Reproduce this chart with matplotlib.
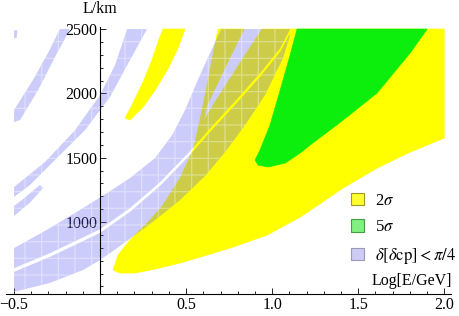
import matplotlib
matplotlib.use("Agg")
import matplotlib.pyplot as plt
from matplotlib.patches import Patch
import numpy as np

plt.rcParams['font.family'] = ['Liberation Serif', 'DejaVu Serif']
plt.rcParams['mathtext.fontset'] = 'stix'
plt.rcParams['hatch.linewidth'] = 0.9

# ---- regions: x = Log[E/GeV], L in km ----
# 2 sigma, main region: left edge, notch at the top, right edge, lower edge
yellow_left_x = [0.076, 0.105, 0.174, 0.279, 0.366, 0.465, 0.541, 0.581, 0.628, 0.686]
yellow_left_L = [627, 744, 860, 1000, 1132, 1342, 1560, 1793, 2104, 2500]
yellow_notch_x = [0.837, 0.762, 0.692, 0.622, 0.600, 0.657, 0.750, 0.843, 0.942]
yellow_notch_L = [2500, 2298, 2104, 1909, 1780, 1909, 2104, 2298, 2500]
yellow_right_x = [2.0, 2.0]
yellow_right_L = [2500, 1653]
yellow_bottom_x = [1.802, 1.610, 1.413, 1.163, 0.971, 0.773, 0.581, 0.465, 0.320, 0.203, 0.116]
yellow_bottom_L = [1544, 1420, 1265, 1039, 899, 806, 728, 682, 635, 604, 604]

# 2 sigma, thin island on the upper left
island_x = [0.145, 0.186, 0.250, 0.302, 0.337, 0.366, 0.494, 0.448, 0.390, 0.320, 0.250, 0.174]
island_L = [1808, 1909, 2088, 2259, 2399, 2500, 2500, 2337, 2181, 2026, 1894, 1793]

# 5 sigma
green_x = [1.145, 1.105, 1.047, 0.988, 0.930, 0.901, 0.919, 0.977, 1.076, 1.163, 1.221,
           1.413, 1.610, 1.802, 1.901]
green_L = [2500, 2298, 2026, 1754, 1560, 1482, 1443, 1428, 1459, 1537, 1599,
           1793, 2003, 2314, 2500]

# delta[delta cp] < pi/4 bands
band1_x = [-0.5, -0.5, -0.39, -0.30, -0.233, -0.174, -0.262, -0.36, -0.465]
band1_L = [1777, 1871, 2104, 2321, 2500, 2500, 2282, 2026, 1793]
dot_x = [-0.5, -0.48, -0.485, -0.5]
dot_L = [2490, 2490, 2430, 2430]
band2_x = [-0.5, -0.32, -0.145, 0.0, 0.087, 0.157, 0.273, 0.174, 0.058, -0.087, -0.262, -0.407, -0.5]
band2_L = [1272, 1467, 1715, 1987, 2220, 2500, 2500, 2259, 1972, 1715, 1482, 1288, 1195]
frag_x = [-0.5, -0.5, -0.41, -0.33, -0.35, -0.44]
frag_L = [1125, 1047, 1148, 1265, 1288, 1187]

band3_upper_x = [-0.5, -0.291, -0.099, 0.041, 0.174, 0.320, 0.419, 0.494, 0.581, 0.703, 1.10]
band3_upper_L = [798, 954, 1109, 1226, 1342, 1498, 1676, 1871, 2143, 2500, 2500]
gap_x = [-0.5, -0.291, 0.0, 0.174, 0.349, 0.523, 0.640, 0.785, 0.930, 1.047, 1.105]
gap_hi_L = [641, 758, 944, 1108, 1310, 1551, 1729, 1939, 2157, 2351, 2498]
gap_lo_L = [613, 730, 916, 1080, 1282, 1523, 1701, 1911, 2129, 2323, 2470]
band3_lower_x = [-0.5, -0.291, -0.099, 0.0, 0.116, 0.291, 0.465, 0.610, 0.727, 0.843, 0.959, 1.064, 1.099]
band3_lower_L = [457, 527, 627, 705, 814, 985, 1171, 1358, 1544, 1754, 1987, 2275, 2430]

labels = ['2$\\sigma$', '5$\\sigma$', '$\\delta[\\delta\\mathrm{cp}]<\\pi/4$']

yellow = '#ffff00'
green = '#0cee0c'
blue = (0.35, 0.35, 0.95)
blue_alpha = 0.3

fig = plt.figure(figsize=(4.59, 3.16), dpi=100)
ax = fig.add_axes([0.0137, 0.0696, 0.969, 0.845])

# yellow
yx = yellow_left_x + yellow_notch_x + yellow_right_x + yellow_bottom_x
yL = yellow_left_L + yellow_notch_L + yellow_right_L + yellow_bottom_L
ax.fill(yx, yL, color=yellow, lw=0.5, ec=yellow, zorder=1)
ax.fill(island_x, island_L, color=yellow, lw=0.5, ec=yellow, zorder=1)

# green
ax.fill(green_x, green_L, color=green, lw=0.5, ec=green, zorder=2)

# blue, see-through, with the light mesh lines
def blue_fill(bx, bL):
    ax.fill(bx, bL, fc=blue, alpha=blue_alpha, lw=0, zorder=3)
    ax.fill(bx, bL, fc='none', ec='white', alpha=0.35, lw=0, hatch='+', zorder=4)

for bx, bL in [(band1_x, band1_L), (dot_x, dot_L), (band2_x, band2_L), (frag_x, frag_L)]:
    blue_fill(bx, bL)
blue_fill(band3_upper_x + gap_x[::-1], band3_upper_L + gap_hi_L[::-1])
blue_fill(gap_x + band3_lower_x[::-1], gap_lo_L + band3_lower_L[::-1])

ax.set_xlim(-0.545, 2.04)
ax.set_ylim(441, 2516)

for s in ['top', 'right']:
    ax.spines[s].set_visible(False)
ax.spines['left'].set_position(('data', 0))
ax.spines['left'].set_linewidth(0.8)
ax.spines['bottom'].set_linewidth(0.8)
ax.spines['left'].set_zorder(6)
ax.spines['bottom'].set_zorder(6)

ax.set_xticks([-0.5, 0.5, 1.0, 1.5, 2.0])
ax.set_xticklabels(['\u22120.5', '0.5', '1.0', '1.5', '2.0'])
ax.set_xticks(np.arange(-0.5, 2.01, 0.1), minor=True)
ax.set_yticks([1000, 1500, 2000, 2500])
ax.set_yticks(np.arange(500, 2501, 100), minor=True)
ax.tick_params(which='both', direction='in', labelsize=11.5, width=0.6, pad=2)
ax.tick_params(which='major', length=4.5)
ax.tick_params(which='minor', length=2.5)

fig.text(100 / 459, 1 - 9 / 316, 'L/km', ha='center', va='center', fontsize=11.5)
fig.text(452 / 459, (316 - 289) / 316, 'Log[E/GeV]', ha='right', va='bottom', fontsize=11.5)

handles = [Patch(fc='#ffff30', ec='#a09a20', lw=0.8),
           Patch(fc='#80f080', ec='#40a040', lw=0.8),
           Patch(fc='#ccccf4', ec='#9a9ab8', lw=0.8)]
fig.legend(handles, labels, loc='upper left', bbox_to_anchor=(351 / 459, 1 - 193 / 316),
           frameon=False, fontsize=12, handlelength=0.75, handleheight=0.75,
           handletextpad=0.7, labelspacing=0.62, borderpad=0, borderaxespad=0)

fig.savefig('out.png', dpi=100)
